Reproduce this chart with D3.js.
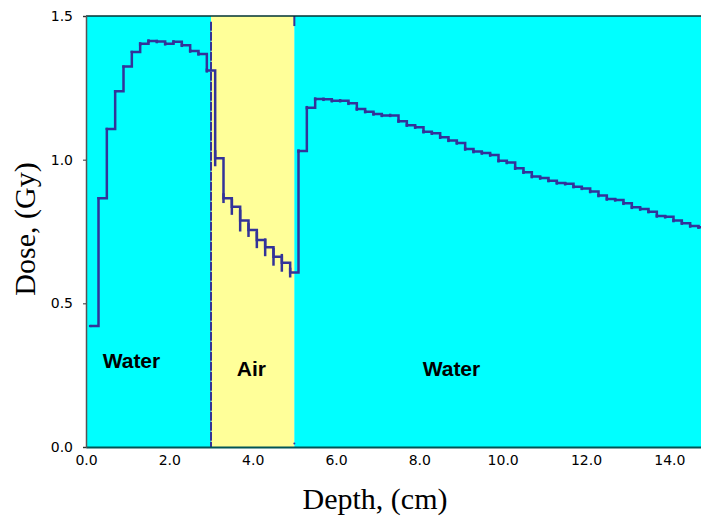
<!DOCTYPE html>
<html>
<head>
<meta charset="utf-8">
<script src="https://cdn.jsdelivr.net/npm/d3@7"></script>
<style>
	body { margin: 0; background: #fff; }
	svg { display: block; }
</style>
</head>
<body>
<div id="chart"></div>
<script>
// step histogram, bins 0.2 cm wide
const binWidth = 0.2;
const firstBinStart = 0.1;

// dose per bin (Gy): water slab, air gap, water again
const doseWater1 = [0.421, 0.866, 1.107, 1.238, 1.324, 1.375, 1.403, 1.413, 1.411, 1.403, 1.410, 1.398, 1.378, 1.368, 1.310];
const doseAir = [1.005, 0.866, 0.836, 0.788, 0.755, 0.720, 0.695, 0.662, 0.641, 0.607];
const doseWater2 = [1.030, 1.181, 1.211, 1.210, 1.205, 1.205, 1.196, 1.176, 1.167, 1.159, 1.154, 1.154, 1.134,
	1.120, 1.113, 1.097, 1.092, 1.078, 1.067, 1.058, 1.037, 1.028, 1.023, 1.016, 0.996, 0.990,
	0.970, 0.956, 0.941, 0.936, 0.927, 0.919, 0.916, 0.906, 0.900, 0.889, 0.875, 0.863, 0.860,
	0.848, 0.834, 0.828, 0.819, 0.804, 0.801, 0.788, 0.779, 0.769, 0.765];

// statistical error per bin
const errWater1 = [0.004, 0.004, 0.004, 0.004, 0.004, 0.004, 0.006, 0.006, 0.006, 0.006, 0.006, 0.006, 0.006, 0.006, 0.007];
const errAir = [0.028, 0.017, 0.028, 0.038, 0.024, 0.028, 0.031, 0.031, 0.031, 0.017];
const errWater2 = doseWater2.map(() => 0.006);

// slabs
const regions = [
	{name: 'Water', from: 0, to: 3.0, fill: '#00ffff', labelX: 0.4, labelY: 0.275},
	{name: 'Air', from: 3.0, to: 5.0, fill: '#ffff99', labelX: 3.62, labelY: 0.246},
	{name: 'Water', from: 5.0, to: 14.76, fill: '#00ffff', labelX: 8.08, labelY: 0.246}
];

const xTicks = [0, 2, 4, 6, 8, 10, 12, 14];
const yTicks = [0, 0.5, 1.0, 1.5];

const width = 701, height = 518;
const margin = {top: 16, right: 0, bottom: 71, left: 86};

const svg = d3.select('#chart').append('svg')
	.attr('width', width)
	.attr('height', height);

const x = d3.scaleLinear().domain([0, 14.76]).range([margin.left, width - margin.right]);
const y = d3.scaleLinear().domain([0, 1.5]).range([height - margin.bottom, margin.top]);

const dose = doseWater1.concat(doseAir, doseWater2);
const errs = errWater1.concat(errAir, errWater2);
const bins = dose.map((v, i) => ({start: firstBinStart + i * binWidth, value: v, err: errs[i]}));

svg.append('defs').append('clipPath')
	.attr('id', 'plot-clip')
	.append('rect')
	.attr('x', x(0))
	.attr('y', y(1.5))
	.attr('width', x.range()[1] - x(0))
	.attr('height', y(0) - y(1.5));

const plot = svg.append('g').attr('clip-path', 'url(#plot-clip)');

plot.selectAll('.region')
	.data(regions)
	.enter()
	.append('rect')
	.attr('x', d => x(d.from))
	.attr('y', y(1.5))
	.attr('width', d => x(d.to) - x(d.from))
	.attr('height', y(0) - y(1.5))
	.attr('fill', d => d.fill);

// interface markers
plot.append('line')
	.attr('x1', x(3.0)).attr('x2', x(3.0))
	.attr('y1', y(1.48)).attr('y2', y(0))
	.attr('stroke', '#333399')
	.attr('stroke-width', 2)
	.attr('stroke-dasharray', '9,1');

plot.append('line')
	.attr('x1', x(5.0)).attr('x2', x(5.0))
	.attr('y1', y(1.5)).attr('y2', y(1.465))
	.attr('stroke', '#333399')
	.attr('stroke-width', 2);

plot.append('circle')
	.attr('cx', x(5.0)).attr('cy', y(0.012))
	.attr('r', 1)
	.attr('fill', '#333399');

const stepPoints = bins.map(d => [d.start, d.value]);
const last = bins[bins.length - 1];
stepPoints.push([last.start + binWidth, last.value]);

const line = d3.line()
	.x(d => x(d[0]))
	.y(d => y(d[1]))
	.curve(d3.curveStepAfter);

plot.append('path')
	.datum(stepPoints)
	.attr('fill', 'none')
	.attr('stroke', '#333399')
	.attr('stroke-width', 2.5)
	.attr('d', line);

plot.selectAll('.err')
	.data(bins)
	.enter()
	.append('line')
	.attr('x1', d => x(d.start))
	.attr('x2', d => x(d.start))
	.attr('y1', d => y(d.value - d.err))
	.attr('y2', d => y(d.value + d.err))
	.attr('stroke', '#333399')
	.attr('stroke-width', 2.5);

plot.selectAll('.region-label')
	.data(regions)
	.enter()
	.append('text')
	.attr('x', d => x(d.labelX))
	.attr('y', d => y(d.labelY))
	.attr('font-family', '"Liberation Sans", Arial, sans-serif')
	.attr('font-weight', 'bold')
	.attr('font-size', 21)
	.attr('fill', '#000')
	.text(d => d.name);

// frame
svg.append('line')
	.attr('x1', x(0)).attr('x2', width)
	.attr('y1', y(1.5)).attr('y2', y(1.5))
	.attr('stroke', '#003333')
	.attr('stroke-width', 1.5);

const xAxis = svg.append('g')
	.attr('transform', `translate(0, ${y(0)})`)
	.call(d3.axisBottom(x).tickValues(xTicks).tickFormat(d3.format('.1f')).tickSize(0).tickPadding(8));

const yAxis = svg.append('g')
	.attr('transform', `translate(${x(0)}, 0)`)
	.call(d3.axisLeft(y).tickValues(yTicks).tickFormat(d3.format('.1f')).tickSize(3).tickPadding(10));

xAxis.select('.domain').attr('stroke', '#005555').attr('stroke-width', 2);
yAxis.select('.domain').attr('stroke', '#555').attr('stroke-width', 1.5);
yAxis.selectAll('.tick line').attr('stroke', '#333');

svg.selectAll('.tick text')
	.attr('font-family', '"DejaVu Sans", Verdana, sans-serif')
	.attr('font-size', 14)
	.attr('fill', '#000');

svg.append('text')
	.attr('x', 375)
	.attr('y', 509)
	.attr('text-anchor', 'middle')
	.attr('font-family', '"Liberation Serif", "Times New Roman", serif')
	.attr('font-size', 30)
	.text('Depth, (cm)');

svg.append('text')
	.attr('transform', 'translate(35, 229) rotate(-90)')
	.attr('text-anchor', 'middle')
	.attr('font-family', '"Liberation Serif", "Times New Roman", serif')
	.attr('font-size', 30)
	.text('Dose, (Gy)');
</script>
</body>
</html>
